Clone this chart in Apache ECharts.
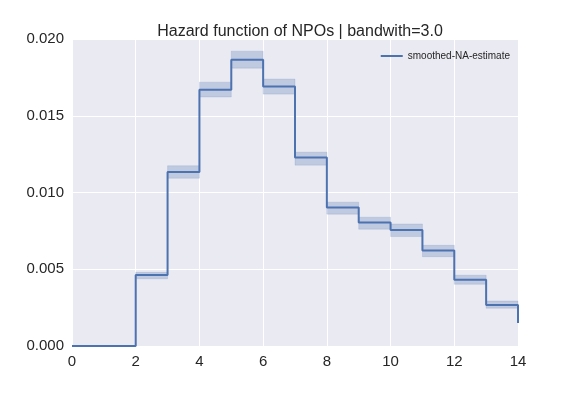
<!DOCTYPE html>
<html><head><meta charset="utf-8">
<script src="https://cdn.jsdelivr.net/npm/echarts@6/dist/echarts.min.js"></script>
<style>html,body{margin:0;padding:0;background:#fff}#c{width:576px;height:396px}</style>
</head><body><div id="c"></div>
<script>
var times = [0,1,2,3,4,5,6,7,8,9,10,11,12,13,14];
var hazard = [0,0,0.00463,0.01134,0.01669,0.01865,0.01691,0.01228,0.00902,0.00804,0.00756,0.00622,0.00432,0.00267,0.0015];
var lower  = [0,0,0.00438,0.01093,0.01622,0.01810,0.01641,0.01178,0.00859,0.00761,0.00713,0.00582,0.00402,0.00246,0.0014];
var upper  = [0,0,0.00480,0.01174,0.01719,0.01921,0.01739,0.01263,0.00937,0.00839,0.00795,0.00656,0.00461,0.00293,0.0016];
var xTicks = [0,2,4,6,8,10,12,14];
var yTicks = ['0.000','0.005','0.010','0.015','0.020'];

var lineData = times.map(function(t,i){return [t, hazard[i]];});
var bandData = [];
for (var i = 0; i < times.length - 1; i++) {
  if (upper[i] > lower[i]) bandData.push([times[i], times[i+1], lower[i], upper[i]]);
}
var font = 'Liberation Sans, Arial, sans-serif';
var chart = echarts.init(document.getElementById('c'));
chart.setOption({
  backgroundColor: '#fff',
  animation: false,
  title: {text: 'Hazard function of NPOs | bandwith=3.0', left: 295, textAlign: 'center', top: 19,
    textStyle: {fontFamily: font, fontSize: 16, fontWeight: 'normal', color: '#262626'}},
  legend: {data: ['smoothed-NA-estimate'], right: 61, top: 46, icon: 'rect', itemWidth: 22, itemHeight: 2, itemGap: 6,
    textStyle: {fontFamily: font, fontSize: 10, color: '#262626'}},
  grid: {left: 72, right: 58, top: 39, bottom: 50, show: true, backgroundColor: '#EAEAF2', borderWidth: 0},
  xAxis: {type: 'value', min: 0, max: 14, interval: 2,
    axisLine: {show: false}, axisTick: {show: false},
    axisLabel: {fontFamily: font, fontSize: 15, color: '#262626', margin: 8,
      formatter: function(v){return xTicks.indexOf(v) >= 0 ? String(v) : '';}},
    splitLine: {show: true, lineStyle: {color: '#ffffff', width: 1}}},
  yAxis: {type: 'value', min: 0, max: 0.02, interval: 0.005,
    axisLine: {show: false}, axisTick: {show: false},
    axisLabel: {fontFamily: font, fontSize: 15, color: '#262626', margin: 8,
      formatter: function(v){return yTicks[Math.round(v/0.005)];}},
    splitLine: {show: true, lineStyle: {color: '#ffffff', width: 1}}},
  series: [
    {name: 'band', type: 'custom', data: bandData, silent: true,
      encode: {x: [0, 1], y: [2, 3]},
      renderItem: function(params, api) {
        var p0 = api.coord([api.value(0), api.value(3)]);
        var p1 = api.coord([api.value(1), api.value(2)]);
        return {type: 'rect', shape: {x: p0[0], y: p0[1], width: p1[0] - p0[0], height: p1[1] - p0[1]},
          style: {fill: 'rgba(76,114,176,0.27)', stroke: 'rgba(76,114,176,0.15)', lineWidth: 1}};
      }},
    {name: 'smoothed-NA-estimate', type: 'line', step: 'end', data: lineData, symbol: 'none',
      color: '#4C72B0', lineStyle: {color: '#4C72B0', width: 2}}
  ]
});
</script></body></html>
